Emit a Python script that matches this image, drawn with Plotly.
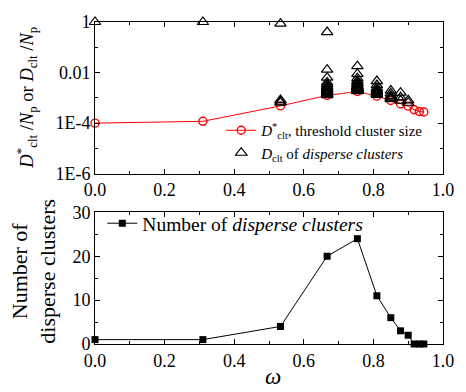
import plotly.graph_objects as go

# ---- data ----
omega = [0.0, 0.31, 0.533, 0.667, 0.754, 0.81, 0.85, 0.878, 0.90, 0.917, 0.932, 0.945]
d_star = [1.0e-4, 1.18e-4, 4.8e-4, 1.25e-3, 1.78e-3, 1.17e-3, 7.9e-4, 5.7e-4, 4.7e-4, 3.4e-4, 2.9e-4, 2.75e-4]
n_disperse = [1, 1, 4, 20, 24, 11, 6, 3, 2, 0, 0, 0]

disperse = {
    0.0: [1.0],
    0.31: [1.0],
    0.533: [0.86, 8.2e-4, 7.0e-4, 6.5e-4],
    0.667: [0.40, 0.013, 6.3e-3, 4.1e-3, 3.4e-3, 3.0e-3, 2.7e-3, 2.4e-3, 2.2e-3, 2.0e-3,
            1.9e-3, 1.8e-3, 1.7e-3, 1.6e-3, 1.5e-3, 1.45e-3, 1.4e-3, 1.35e-3, 1.3e-3, 1.28e-3],
    0.754: [0.018, 8.8e-3, 6.0e-3, 4.8e-3, 4.2e-3, 3.7e-3, 3.3e-3, 3.0e-3, 2.85e-3, 2.7e-3,
            2.6e-3, 2.5e-3, 2.4e-3, 2.3e-3, 2.25e-3, 2.2e-3, 2.15e-3, 2.1e-3, 2.05e-3, 2.0e-3,
            1.97e-3, 1.93e-3, 1.9e-3, 1.85e-3],
    0.81: [4.6e-3, 3.2e-3, 2.5e-3, 2.1e-3, 1.9e-3, 1.75e-3, 1.65e-3, 1.55e-3, 1.45e-3, 1.38e-3, 1.3e-3],
    0.85: [1.95e-3, 1.5e-3, 1.2e-3, 1.05e-3, 9.6e-4, 8.8e-4],
    0.878: [1.6e-3, 1.05e-3, 7.8e-4],
    0.90: [8.0e-4, 6.4e-4],
}

log_tickvals = [1, 0.01, 1e-4, 1e-6]
log_ticktext = ["1", "0.01", "1E-4", "1E-6"]
x_tickvals = [0.0, 0.2, 0.4, 0.6, 0.8, 1.0]

tri_x = [w for w, vals in disperse.items() for _ in vals]
tri_y = [v for vals in disperse.values() for v in vals]

FONT = "Liberation Serif"

fig = go.Figure()

fig.add_trace(go.Scatter(
    x=omega, y=d_star, mode="lines+markers",
    line=dict(color="red", width=1),
    marker=dict(symbol="circle-open", size=8, color="red", line=dict(width=1.4)),
    name="<i>D</i><sup>*</sup><sub>clt</sub>, threshold cluster size",
    xaxis="x", yaxis="y", cliponaxis=False, legend="legend",
))
fig.add_trace(go.Scatter(
    x=tri_x, y=tri_y, mode="markers",
    marker=dict(symbol="triangle-up-open", size=10, color="black", line=dict(width=1.2)),
    name="<i>D</i><sub>clt</sub> of <i>disperse clusters</i>",
    xaxis="x", yaxis="y", cliponaxis=False, legend="legend",
))
fig.add_trace(go.Scatter(
    x=omega, y=n_disperse, mode="lines+markers",
    line=dict(color="black", width=1),
    marker=dict(symbol="square", size=7, color="black"),
    name="Number of <i>disperse clusters</i>",
    xaxis="x2", yaxis="y2", cliponaxis=False, legend="legend2",
))

axis_common = dict(
    showline=True, linecolor="black", linewidth=1, mirror="ticks",
    ticks="inside", ticklen=5, tickcolor="black", tickwidth=1,
    showgrid=False, zeroline=False,
    tickfont=dict(family=FONT, size=18, color="black"),
)

H = 329.0
top_dom = [(344 - 170) / H, 1.0]
bot_dom = [0.0, (344 - 209.5) / H]

minor_x = dict(tickvals=[0.1, 0.3, 0.5, 0.7, 0.9], ticks="inside", ticklen=3, tickcolor="black")

fig.update_layout(
    width=466, height=392,
    margin=dict(l=94.5, r=14.5, t=15, b=48),
    plot_bgcolor="white", paper_bgcolor="white",
    font=dict(family=FONT, size=16, color="black"),
    xaxis=dict(axis_common, domain=[0, 1], range=[0, 1], anchor="y",
               tickvals=x_tickvals, tickformat=".1f", minor=minor_x),
    yaxis=dict(axis_common, domain=top_dom, type="log", range=[-6, 0], anchor="x",
               tickvals=log_tickvals, ticktext=log_ticktext,
               minor=dict(tickvals=[0.1, 1e-3, 1e-5], ticks="inside", ticklen=3,
                          tickcolor="black")),
    xaxis2=dict(axis_common, domain=[0, 1], range=[0, 1], anchor="y2",
                tickvals=x_tickvals, tickformat=".1f", minor=minor_x),
    yaxis2=dict(axis_common, domain=bot_dom, range=[0, 30], anchor="x2",
                tickvals=[0, 10, 20, 30],
                minor=dict(tickvals=[5, 15, 25], ticks="inside", ticklen=3,
                           tickcolor="black")),
    legend=dict(x=(224 - 94.5) / 357, y=(344 - 109) / H, xanchor="left", yanchor="top",
                bgcolor="rgba(0,0,0,0)", font=dict(family=FONT, size=15, color="black"),
                tracegroupgap=0),
    legend2=dict(x=(102 - 94.5) / 357, y=(344 - 201) / H, xanchor="left", yanchor="top",
                 bgcolor="rgba(0,0,0,0)", font=dict(family=FONT, size=19.5, color="black")),
    showlegend=True,
)

fig.add_annotation(
    text="<i>D</i><sup>*</sup><sub>clt</sub> /<i>N</i><sub>p</sub> or <i>D</i><sub>clt</sub> /<i>N</i><sub>p</sub>",
    xref="paper", yref="paper", x=(24 - 94.5) / 357, y=(344 - 92) / H,
    xanchor="center", yanchor="middle", textangle=-90, showarrow=False,
    font=dict(family=FONT, size=18.5, color="black"),
)
fig.add_annotation(
    text="Number of<br>disperse clusters",
    xref="paper", yref="paper", x=(31 - 94.5) / 357, y=(344 - 270) / H,
    xanchor="center", yanchor="middle", textangle=-90, showarrow=False,
    font=dict(family=FONT, size=22, color="black"),
)
fig.add_annotation(
    text="<i>ω</i>",
    xref="paper", yref="paper", x=(277 - 94.5) / 357, y=-48 / H,
    xanchor="center", yanchor="bottom", showarrow=False,
    font=dict(family=FONT, size=23, color="black"),
)

fig.write_html("out.html")
